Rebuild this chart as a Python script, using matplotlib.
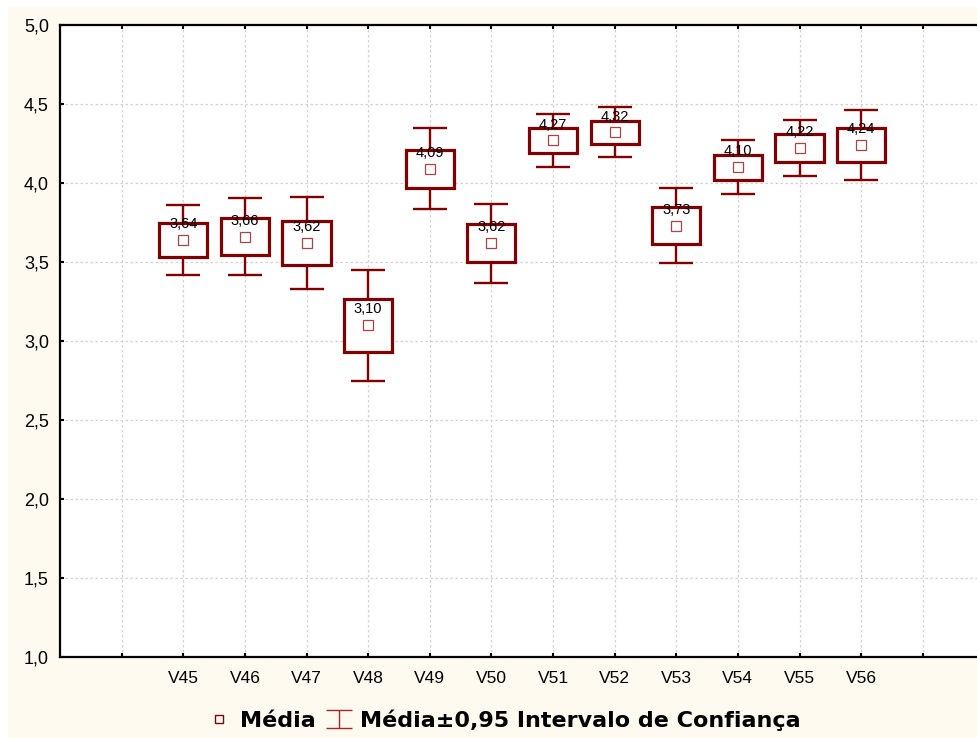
import numpy as np
import matplotlib.pyplot as plt
from matplotlib.patches import Rectangle
from matplotlib.lines import Line2D
from matplotlib.path import Path

# means, box half-height (std. error) and whisker half-height (0.95 CI)
names = ['V45', 'V46', 'V47', 'V48', 'V49', 'V50', 'V51', 'V52', 'V53', 'V54', 'V55', 'V56']
means = [3.64, 3.66, 3.62, 3.10, 4.09, 3.62, 4.27, 4.32, 3.73, 4.10, 4.22, 4.24]
se = [0.109, 0.118, 0.139, 0.168, 0.121, 0.122, 0.080, 0.075, 0.116, 0.080, 0.087, 0.105]
ci = [0.221, 0.243, 0.289, 0.351, 0.255, 0.250, 0.167, 0.158, 0.236, 0.171, 0.177, 0.220]
yticks = [1.0, 1.5, 2.0, 2.5, 3.0, 3.5, 4.0, 4.5, 5.0]

dark = '#800000'
light = '#A84444'

fig = plt.figure(figsize=(9.77, 7.38), dpi=100, facecolor='white')
# cream panel behind the chart
fig.patches.append(Rectangle((8 / 977, 0), 1, 1 - 7 / 738, transform=fig.transFigure,
                             facecolor='#FFFAEF', edgecolor='none', zorder=-10))

ax = fig.add_axes([60 / 977, 1 - 657 / 738, 1 - 60 / 977, (657 - 25) / 738])
ax.set_facecolor('white')

x = np.arange(2, 2 + len(names))
means = np.array(means)
se = np.array(se)
ci = np.array(ci)

ax.errorbar(x, means, yerr=ci, fmt='none', ecolor=dark, elinewidth=1.7,
            capsize=12, capthick=1.7, zorder=3)
bw = 0.78
for xi, m, s in zip(x, means, se):
    ax.add_patch(Rectangle((xi - bw / 2, m - s), bw, 2 * s, facecolor='white',
                           edgecolor=dark, linewidth=2.3, zorder=4))
ax.plot(x, means, linestyle='none', marker='s', markersize=6.5, markerfacecolor='white',
        markeredgecolor=light, markeredgewidth=0.9, zorder=5)
for xi, m in zip(x, means):
    ax.annotate(f'{m:.2f}'.replace('.', ','), (xi, m), xytext=(0, 8.5),
                textcoords='offset points', ha='center', va='baseline',
                fontsize=10.5, family='Liberation Sans', zorder=6)

ax.set_xlim(0, 14.88)
ax.set_ylim(1, 5)
ax.set_xticks(np.arange(1, 15))
ax.set_xticklabels([''] + names + [''], family='Liberation Sans', fontsize=12.5)
ax.set_yticks(yticks)
ax.set_yticklabels([f'{v:.1f}'.replace('.', ',') for v in yticks],
                   family='Liberation Sans', fontsize=13)
ax.tick_params(direction='in', length=3, width=1.5, top=True, pad=10)
ax.tick_params(axis='y', pad=8)
ax.grid(True, linestyle=(0, (2, 2)), color='#D2D2D2', linewidth=0.9)
ax.set_axisbelow(True)
for side in ['left', 'bottom', 'top']:
    ax.spines[side].set_linewidth(1.6)
    ax.spines[side].set_color('black')
ax.spines['right'].set_visible(False)

ibeam = Path([(-1, 0.65), (1, 0.65), (0, 0.65), (0, -0.65), (-1, -0.65), (1, -0.65)],
             [Path.MOVETO, Path.LINETO, Path.MOVETO, Path.LINETO, Path.MOVETO, Path.LINETO])
handles = [
    Line2D([], [], linestyle='none', marker='s', markersize=6, markerfacecolor='white',
           markeredgecolor=dark, markeredgewidth=1.0),
    Line2D([], [], linestyle='none', marker=ibeam, markersize=19, markerfacecolor='none',
           markeredgecolor='#A02828', markeredgewidth=1.0),
]
fig.legend(handles, ['Média', 'Média±0,95 Intervalo de Confiança'], loc='center',
           bbox_to_anchor=(504 / 977, 1 - 720 / 738), ncol=2, frameon=False,
           handlelength=1.1, handletextpad=0.4, columnspacing=0.5,
           prop={'family': 'DejaVu Sans', 'weight': 'bold', 'size': 16})

fig.savefig('out.png', dpi=100, facecolor=fig.get_facecolor())
